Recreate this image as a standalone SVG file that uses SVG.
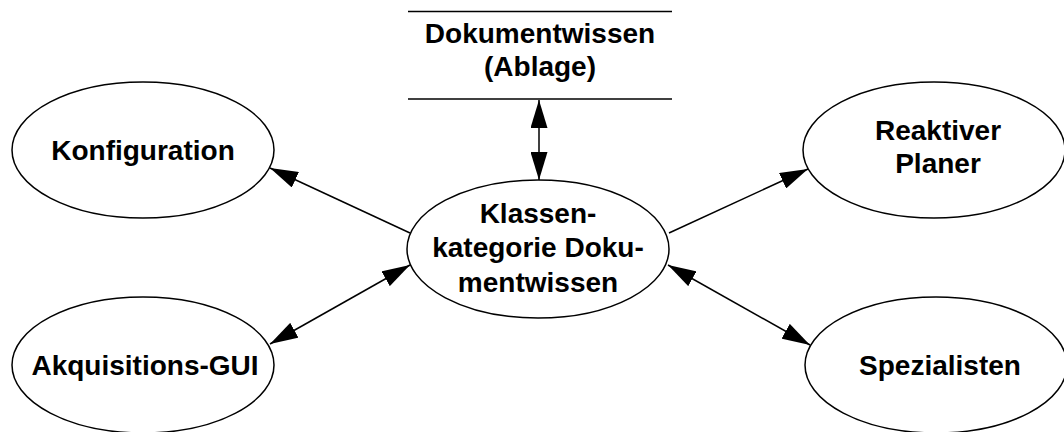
<svg xmlns="http://www.w3.org/2000/svg" width="1064" height="432" viewBox="0 0 1064 432">
<defs>
<style>
.node{fill:#fff;stroke:#000;stroke-width:1.5}
.lbl{font-family:"Liberation Sans",Arial,sans-serif;font-weight:bold;font-size:28px;fill:#000;text-anchor:middle}
.conn{stroke:#000;stroke-width:1.5;fill:none}
</style>
<marker id="ah" viewBox="0 0 28 17" markerWidth="28" markerHeight="17" refX="28" refY="8.5" orient="auto-start-reverse" markerUnits="userSpaceOnUse">
<path d="M0,0 L28,8.5 L0,17 z" fill="#000"/>
</marker>
</defs>
<rect width="1064" height="432" fill="#fff"/>
<g id="connectors">
<line class="conn" x1="539" y1="100" x2="539" y2="180" marker-start="url(#ah)" marker-end="url(#ah)"/>
<line class="conn" x1="410" y1="233" x2="270" y2="168" marker-end="url(#ah)"/>
<line class="conn" x1="410" y1="265" x2="270" y2="344" marker-start="url(#ah)" marker-end="url(#ah)"/>
<line class="conn" x1="669" y1="233" x2="808" y2="169" marker-end="url(#ah)"/>
<line class="conn" x1="668" y1="265" x2="810" y2="345" marker-start="url(#ah)" marker-end="url(#ah)"/>
</g>
<g id="ablage">
<line class="conn" x1="408" y1="11.5" x2="672" y2="11.5"/>
<line class="conn" x1="408" y1="99" x2="672" y2="99"/>
<text class="lbl" x="540" y="43">Dokumentwissen</text>
<text class="lbl" x="540" y="76">(Ablage)</text>
</g>
<g id="konfiguration">
<ellipse class="node" cx="143" cy="150" rx="131" ry="68"/>
<text class="lbl" x="143" y="160">Konfiguration</text>
</g>
<g id="akquisitions">
<ellipse class="node" cx="143" cy="365" rx="131" ry="68"/>
<text class="lbl" x="145" y="375">Akquisitions-GUI</text>
</g>
<g id="klassenkategorie">
<ellipse class="node" cx="538" cy="249" rx="131" ry="69"/>
<text class="lbl" x="538" y="223">Klassen-</text>
<text class="lbl" x="538" y="257">kategorie Doku-</text>
<text class="lbl" x="538" y="292">mentwissen</text>
</g>
<g id="reaktiver">
<ellipse class="node" cx="934" cy="150" rx="131" ry="68"/>
<text class="lbl" x="938" y="140">Reaktiver</text>
<text class="lbl" x="938" y="173">Planer</text>
</g>
<g id="spezialisten">
<ellipse class="node" cx="936" cy="365" rx="131" ry="68"/>
<text class="lbl" x="940" y="375">Spezialisten</text>
</g>
</svg>
